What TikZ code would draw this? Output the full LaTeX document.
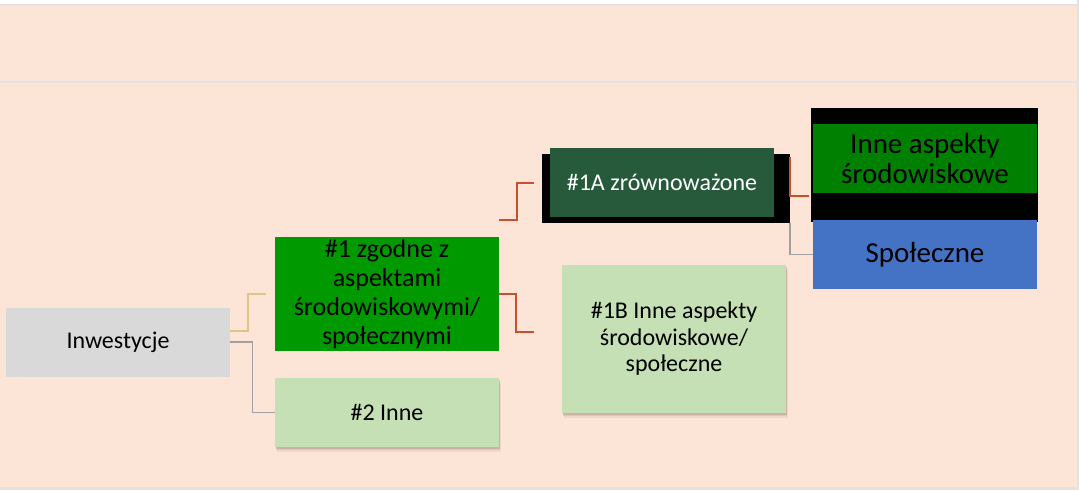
\documentclass[tikz,border=0pt]{standalone}
\usepackage{fontspec}
\setmainfont{Carlito}
\usetikzlibrary{shadows,calc}
\definecolor{peach}{HTML}{FCE4D6}
\definecolor{edgegrey}{HTML}{E3E3E3}
\definecolor{invgrey}{HTML}{D9D9D9}
\definecolor{brightgreen}{HTML}{009900}
\definecolor{lightgreen}{HTML}{C5E0B4}
\definecolor{darkgreen}{HTML}{275A3B}
\definecolor{midgreen}{HTML}{008000}
\definecolor{blueacc}{HTML}{4472C4}
\definecolor{redline}{HTML}{C9502E}
\definecolor{tanline}{HTML}{DCC585}
\definecolor{greyline}{HTML}{A0A0A0}
\definecolor{shadowc}{HTML}{8A6A5A}
\tikzset{
  box/.style={anchor=north west, inner sep=0pt, outer sep=0pt, align=center,
    minimum width=224pt, minimum height=69pt, text=black},
  shadowbox/.style={box, fill=lightgreen,
    general shadow={shadow xshift=1.5pt, shadow yshift=-4.5pt, opacity=0.10, fill=shadowc},
    general shadow={shadow xshift=1pt, shadow yshift=-3pt, opacity=0.15, fill=shadowc},
    general shadow={shadow xshift=0.5pt, shadow yshift=-1.5pt, opacity=0.22, fill=shadowc}},
  conn/.style={line width=2pt},
  fs24/.style={font=\fontsize{24}{26.5}\selectfont},
  fs26/.style={font=\fontsize{26}{29}\selectfont},
  fs29/.style={font=\fontsize{29}{30}\selectfont},
}
\begin{document}
\begin{tikzpicture}[x=1pt,y=-1pt]
\useasboundingbox (0,0) rectangle (1079,490);
% background
\fill[edgegrey] (0,0) rectangle (1079,490);
\fill[white] (0,0) rectangle (1077,4);
\fill[peach] (0,6) rectangle (1077,81);
\fill[peach] (0,83) rectangle (1077,487);

% nodes
\node[box, fill=invgrey, fs24] (inv) at (6,308) {Inwestycje};
\node[box, fill=brightgreen, minimum height=114pt, fs26] (n1) at (275,237)
  {\#1 zgodne z\\aspektami\\środowiskowymi/\\społecznymi};
\node[shadowbox, fs24] (n2) at (275,378) {\#2 Inne};
\node[box, fill=black, minimum width=248pt] (n1ab) at (542,154) {};
\node[box, fill=darkgreen, text=white, fs24] (n1a) at (550,148) {\#1A zrównoważone};
\node[shadowbox, minimum height=148pt, fs24] (n1b) at (562,265)
  {\#1B Inne aspekty\\środowiskowe/\\społeczne};
\node[box, fill=black, minimum width=227pt, minimum height=114pt] (inneb) at (811,108) {};
\node[box, fill=midgreen, fs29] (inne) at (813,124) {Inne aspekty\\środowiskowe};
\node[box, fill=blueacc, fs29] (spo) at (813,220) {Społeczne};

% connector ends
\coordinate (r1s) at (499,220);
\coordinate (r2e) at (809,196);

% connectors
\draw[conn, tanline] ([yshift=11.5pt]inv.east) -- ++(18,0) |- ([xshift=-9pt]n1.west);
\draw[conn, greyline, line width=1.5pt] ([yshift=0.5pt]inv.east) -- ++(22.5,0) |- (n2.west);
\draw[conn, redline] (n1.east) -- ++(17,0) |- ([xshift=-28pt,yshift=7pt]n1b.west);
\draw[conn, redline] (r1s) -- ++(18,0) |- ([xshift=-16pt]n1a.west);
\draw[conn, redline] ([yshift=-3pt]n1ab.north east) |- (r2e);
\draw[conn, greyline, line width=1.5pt] (n1ab.south east) |- (spo.west);
\end{tikzpicture}
\end{document}
